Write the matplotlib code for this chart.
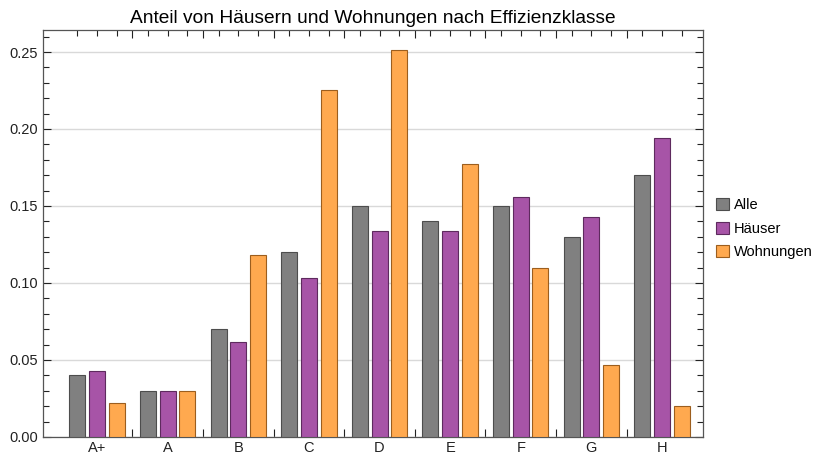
import matplotlib.pyplot as plt
import numpy as np
from matplotlib.ticker import FixedLocator, MultipleLocator

plt.rcParams["font.family"] = ["Liberation Sans", "DejaVu Sans"]

# data
classes = ["A+", "A", "B", "C", "D", "E", "F", "G", "H"]
alle = [0.040, 0.030, 0.070, 0.120, 0.150, 0.140, 0.150, 0.130, 0.170]
haeuser = [0.043, 0.030, 0.062, 0.103, 0.134, 0.134, 0.156, 0.143, 0.194]
wohnungen = [0.022, 0.030, 0.118, 0.225, 0.251, 0.177, 0.110, 0.047, 0.020]

series = [
    ("Alle", alle, "#808080", "#4d4d4d"),
    ("Häuser", haeuser, "#a754a7", "#5e2a5e"),
    ("Wohnungen", wohnungen, "#ffa94f", "#9c5e1e"),
]

fig = plt.figure(figsize=(8.16, 4.57), dpi=100)
ax = fig.add_axes([0.0527, 0.0438, 0.8088, 0.8906])

x = np.arange(len(classes))
step = 0.279
width = 0.227
for i, (name, vals, color, edge) in enumerate(series):
    ax.bar(x + (i - 1) * step, vals, width, color=color, edgecolor=edge,
           linewidth=0.8, label=name, zorder=3)

ax.set_xlim(-0.765, 8.58)
ax.set_ylim(0, 0.2643)

# y axis
ax.yaxis.set_major_locator(MultipleLocator(0.05))
ax.yaxis.set_minor_locator(MultipleLocator(0.01))
ax.yaxis.set_major_formatter(plt.FuncFormatter(lambda v, p: f"{v:.2f}"))
ax.grid(axis="y", color="#d9d9d9", linewidth=1, zorder=0)

# x axis: long ticks between groups, short ticks at bar centres
ax.xaxis.set_major_locator(FixedLocator(x[:-1] + 0.5))
ax.set_xticklabels([""] * (len(classes) - 1))
centers = np.sort(np.concatenate([x - step, x, x + step]))
ax.xaxis.set_minor_locator(FixedLocator(centers))
minor_labels = []
for c in classes:
    minor_labels += ["", c, ""]
ax.set_xticklabels(minor_labels, minor=True)

ax.tick_params(which="both", direction="in", top=True, right=True,
               labelsize=10.5, colors="#222222", width=0.8)
ax.tick_params(which="major", length=6)
ax.tick_params(which="minor", length=4)
ax.tick_params(axis="x", which="minor", pad=3)
for s in ax.spines.values():
    s.set_color("#555555")
    s.set_linewidth(0.9)

ax.set_title("Anteil von Häusern und Wohnungen nach Effizienzklasse",
             fontsize=13.8, pad=5)

ax.legend(loc="center left", bbox_to_anchor=(1.0, 0.512), frameon=False,
          fontsize=10.5, handlelength=0.9, handleheight=0.9,
          handletextpad=0.3, labelspacing=0.65, borderaxespad=0.5)

fig.savefig("out.png", dpi=100)
